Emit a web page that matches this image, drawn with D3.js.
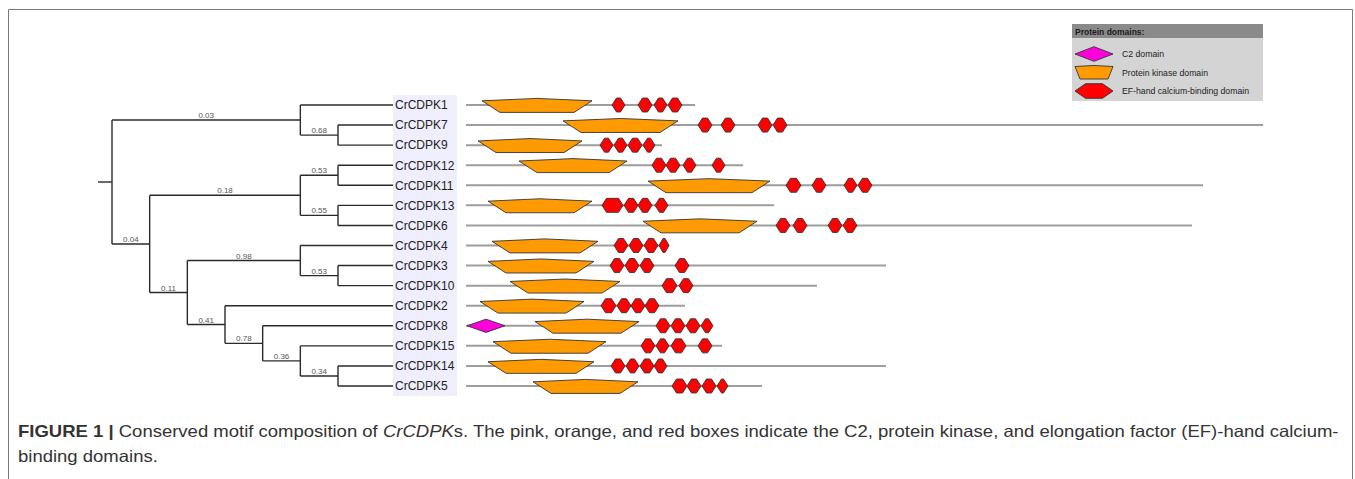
<!DOCTYPE html>
<html>
<head>
<meta charset="utf-8">
<script src="https://cdn.jsdelivr.net/npm/d3@7"></script>
<style>
  html, body { margin: 0; padding: 0; background: #fff; }
  svg { display: block; }
</style>
</head>
<body>
<svg id="fig" width="1355" height="479"></svg>
<script>
// Neighbour-joining tree of the CrCDPK family with bootstrap support on internal nodes
const treeNewick = "((CrCDPK1,(CrCDPK7,CrCDPK9)0.68)0.03,(((CrCDPK12,CrCDPK11)0.53,(CrCDPK13,CrCDPK6)0.55)0.18,((CrCDPK4,(CrCDPK3,CrCDPK10)0.53)0.98,(CrCDPK2,(CrCDPK8,(CrCDPK15,(CrCDPK14,CrCDPK5)0.34)0.36)0.78)0.41)0.11)0.04);";

// Proteins in tree order (top to bottom)
const proteins = ["CrCDPK1", "CrCDPK7", "CrCDPK9", "CrCDPK12", "CrCDPK11", "CrCDPK13", "CrCDPK6",
                  "CrCDPK4", "CrCDPK3", "CrCDPK10", "CrCDPK2", "CrCDPK8", "CrCDPK15", "CrCDPK14", "CrCDPK5"];

// Protein lengths (residues)
const proteinLength = [458, 1594, 392, 554, 1474, 616, 1452, 404, 840, 702, 438, 492, 512, 840, 592];

// Protein kinase domain [start, end]
const kinaseDomain = [
  [32, 252], [194, 424], [24, 232], [106, 322], [364, 608], [44, 252], [354, 582],
  [52, 264], [44, 256], [88, 308], [28, 236], [138, 346], [54, 280], [44, 256], [134, 344]
];

// EF-hand calcium-binding domains [start, end]
const efHands = [
  [[292, 318], [344, 372], [376, 402], [404, 432]],
  [[464, 492], [510, 538], [584, 612], [614, 642]],
  [[268, 294], [296, 322], [324, 352], [354, 378]],
  [[372, 400], [400, 428], [434, 460], [492, 518]],
  [[640, 670], [692, 720], [756, 782], [784, 812]],
  [[272, 314], [316, 344], [344, 372], [378, 404]],
  [[620, 648], [654, 682], [724, 752], [754, 782]],
  [[296, 324], [326, 354], [356, 384], [386, 406]],
  [[288, 316], [318, 346], [348, 376], [418, 446]],
  [[392, 422], [426, 454]],
  [[270, 300], [302, 330], [330, 358], [358, 386]],
  [[380, 408], [410, 438], [440, 468], [470, 494]],
  [[350, 378], [380, 406], [410, 440], [464, 492]],
  [[290, 318], [320, 346], [348, 376], [376, 402]],
  [[412, 442], [442, 470], [472, 500], [502, 524]]
];

// C2 domains [protein, start, end]
const c2Domains = [["CrCDPK8", 2, 78]];

const legendLabels = ["C2 domain", "Protein kinase domain", "EF-hand calcium-binding domain"];
const legendTitle = "Protein domains:";

const captionBold = "FIGURE 1";
const captionLine1a = " Conserved motif composition of ";
const captionItalic = "CrCDPK";
const captionLine1b = "s. The pink, orange, and red boxes indicate the C2, protein kinase, and elongation factor (EF)-hand calcium-";
const captionLine2 = "binding domains.";

const colors = { c2: "#ff00dc", kinase: "#ff9a00", ef: "#ff0000", outline: "#333", backbone: "#9d9d9d" };

// ---------- layout ----------
const svg = d3.select("#fig");

// frame
svg.append("path")
  .attr("d", "M8.5,479 V9.5 H1352.5 V479")
  .attr("fill", "none").attr("stroke", "#7a7a7a").attr("stroke-width", 1);

const yRow = d3.scalePoint().domain(proteins).range([105, 386]);
const xTree = d3.scaleLinear().domain([7, 1]).range([112, 338]);
const leafEnd = 393;
const xSeq = d3.scaleLinear().domain([0, 1600]).range([466, 1266]);

// tiny Newick reader
function parseNewick(s) {
  let i = 0;
  function node() {
    const n = {};
    if (s[i] === "(") {
      i++;
      n.children = [];
      do { n.children.push(node()); } while (s[i++] === ",");
    }
    let label = "";
    while (i < s.length && !",();".includes(s[i])) label += s[i++];
    if (n.children) n.support = label; else n.name = label;
    return n;
  }
  return node();
}

const root = d3.hierarchy(parseNewick(treeNewick));
root.eachAfter(d => {
  if (!d.children) {
    d.y = yRow(d.data.name);
    d.x = leafEnd;
  } else {
    d.y = (d.children[0].y + d.children[d.children.length - 1].y) / 2;
    d.x = xTree(d.height);
  }
});

// label background
svg.append("rect")
  .attr("x", 393).attr("y", 95)
  .attr("width", 64).attr("height", 301)
  .attr("fill", "#eeeefc");

const tree = svg.append("g")
  .attr("fill", "none").attr("stroke", "#2a2a2a").attr("stroke-width", 1.4);

// root stub
tree.append("line")
  .attr("x1", 98).attr("x2", root.x)
  .attr("y1", root.y).attr("y2", root.y);

root.descendants().forEach(d => {
  if (d.parent) {
    tree.append("line")
      .attr("x1", d.parent.x).attr("x2", d.x)
      .attr("y1", d.y).attr("y2", d.y);
  }
  if (d.children) {
    tree.append("line")
      .attr("x1", d.x).attr("x2", d.x)
      .attr("y1", d.children[0].y)
      .attr("y2", d.children[d.children.length - 1].y);
  }
});

// bootstrap values
svg.append("g")
  .selectAll("text")
  .data(root.descendants().filter(d => d.children && d.parent))
  .join("text")
  .attr("x", d => (d.parent.x + d.x) / 2)
  .attr("y", d => d.y - 2)
  .attr("text-anchor", "middle")
  .attr("font-family", "Liberation Sans, Arial, sans-serif")
  .attr("font-size", 8)
  .attr("fill", "#555")
  .text(d => d.data.support);

// leaf labels
svg.append("g")
  .selectAll("text")
  .data(root.leaves())
  .join("text")
  .attr("x", 395)
  .attr("y", d => d.y + 4.3)
  .attr("font-family", "Liberation Sans, Arial, sans-serif")
  .attr("font-size", 12)
  .attr("fill", "#222")
  .text(d => d.data.name);

// ---------- domain shapes ----------
function kinasePath(x1, x2, y, up, peak, down, inset) {
  const xm = (x1 + x2) / 2;
  return `M${x1},${y - up} L${xm},${y - peak} L${x2},${y - up} L${x2 - inset},${y + down} L${x1 + inset},${y + down} Z`;
}
function hexPath(x1, x2, y, h, inset) {
  const k = Math.min(inset, (x2 - x1) / 2 - 1);
  return `M${x1},${y} L${x1 + k},${y - h} L${x2 - k},${y - h} L${x2},${y} L${x2 - k},${y + h} L${x1 + k},${y + h} Z`;
}
function diamondPath(x1, x2, y, h) {
  const xm = (x1 + x2) / 2;
  return `M${x1},${y} L${xm},${y - h} L${x2},${y} L${xm},${y + h} Z`;
}

const rows = svg.append("g")
  .selectAll("g")
  .data(proteins.map((p, i) => ({
    name: p, len: proteinLength[i], kinase: kinaseDomain[i], ef: efHands[i],
    c2: c2Domains.filter(c => c[0] === p)
  })))
  .join("g")
  .attr("transform", d => `translate(0,${yRow(d.name)})`);

rows.append("line")
  .attr("x1", xSeq(0)).attr("x2", d => xSeq(d.len))
  .attr("y1", 0).attr("y2", 0)
  .attr("stroke", colors.backbone).attr("stroke-width", 2);

rows.append("path")
  .attr("d", d => kinasePath(xSeq(d.kinase[0]), xSeq(d.kinase[1]), 0, 4.2, 6.6, 7.4, 18))
  .attr("fill", colors.kinase).attr("stroke", colors.outline).attr("stroke-width", 0.9)
  .attr("stroke-linejoin", "round");

rows.selectAll("path.ef")
  .data(d => d.ef)
  .join("path")
  .attr("class", "ef")
  .attr("d", e => hexPath(xSeq(e[0]), xSeq(e[1]), 0, 7, 4.5))
  .attr("fill", colors.ef).attr("stroke", colors.outline).attr("stroke-width", 0.9);

rows.selectAll("path.c2")
  .data(d => d.c2)
  .join("path")
  .attr("class", "c2")
  .attr("d", c => diamondPath(xSeq(c[1]), xSeq(c[2]), 0, 6.6))
  .attr("fill", colors.c2).attr("stroke", colors.outline).attr("stroke-width", 0.9);

// ---------- legend ----------
const lg = svg.append("g").attr("transform", "translate(1072,24)");
lg.append("rect").attr("width", 191).attr("height", 77).attr("fill", "#d4d4d4");
lg.append("rect").attr("width", 191).attr("height", 14).attr("fill", "#8a8a8a");
lg.append("text")
  .attr("x", 3).attr("y", 10.5)
  .attr("font-family", "Liberation Sans, Arial, sans-serif")
  .attr("font-size", 8.5).attr("font-weight", "bold").attr("fill", "#1a1a1a")
  .text(legendTitle);

const legendY = d3.scalePoint().domain(legendLabels).range([30, 67]);
const lx1 = 3, lx2 = 41;
lg.append("path")
  .attr("d", diamondPath(lx1, lx2, legendY(legendLabels[0]), 7.3))
  .attr("fill", colors.c2).attr("stroke", colors.outline).attr("stroke-width", 0.9);
lg.append("path")
  .attr("d", kinasePath(lx1, lx2, legendY(legendLabels[1]), 6, 7, 6.5, 5))
  .attr("fill", colors.kinase).attr("stroke", colors.outline).attr("stroke-width", 0.9);
lg.append("path")
  .attr("d", hexPath(lx1, lx2, legendY(legendLabels[2]), 7.3, 10.5))
  .attr("fill", colors.ef).attr("stroke", colors.outline).attr("stroke-width", 0.9);
lg.selectAll("text.item")
  .data(legendLabels)
  .join("text")
  .attr("class", "item")
  .attr("x", 50)
  .attr("y", d => legendY(d) + 3)
  .attr("font-family", "Liberation Sans, Arial, sans-serif")
  .attr("font-size", 8.7).attr("fill", "#222")
  .text(d => d);

// ---------- caption ----------
const cap = svg.append("g")
  .attr("font-family", "'Liberation Sans Narrow', 'Arial Narrow', 'Liberation Sans', Arial, sans-serif")
  .attr("font-size", 16.5).attr("fill", "#333");
const capInner = cap.append("g");
const l1 = capInner.append("text").attr("x", 0).attr("y", 0);
l1.append("tspan").attr("font-weight", "bold").text(captionBold);
l1.append("tspan").text(" ");
l1.append("tspan").attr("font-weight", "bold").text("|");
l1.append("tspan").text(captionLine1a);
l1.append("tspan").attr("font-style", "italic").text(captionItalic);
l1.append("tspan").text(captionLine1b);
capInner.append("text").attr("x", 0).attr("y", 25).text(captionLine2);

const w1 = l1.node().getComputedTextLength();
const sx = 1322 / w1;
capInner.attr("transform", `translate(18,437) scale(${sx},1)`);
</script>
</body>
</html>
